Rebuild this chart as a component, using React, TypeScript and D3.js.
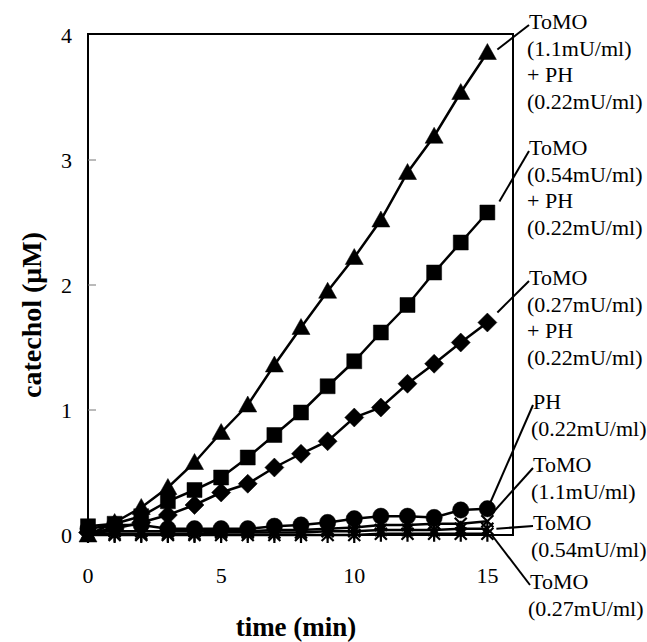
import React, { useEffect, useRef } from "react";
import * as d3 from "d3";

// time points (min)
const times = [0, 1, 2, 3, 4, 5, 6, 7, 8, 9, 10, 11, 12, 13, 14, 15];

// catechol (uM)
const tomo11ph = [0.0, 0.1, 0.22, 0.38, 0.58, 0.82, 1.04, 1.36, 1.66, 1.95, 2.22, 2.52, 2.9, 3.19, 3.54, 3.86];
const tomo054ph = [0.07, 0.09, 0.15, 0.27, 0.36, 0.46, 0.62, 0.8, 0.98, 1.19, 1.39, 1.62, 1.84, 2.1, 2.34, 2.58];
const tomo027ph = [0.02, 0.05, 0.1, 0.16, 0.24, 0.34, 0.41, 0.54, 0.65, 0.75, 0.94, 1.02, 1.21, 1.37, 1.54, 1.7];
const phOnly = [0.05, 0.08, 0.08, 0.05, 0.05, 0.05, 0.05, 0.07, 0.08, 0.1, 0.13, 0.15, 0.15, 0.14, 0.2, 0.21];
const tomo11 = [0.02, 0.03, 0.03, 0.03, 0.03, 0.03, 0.03, 0.04, 0.04, 0.05, 0.06, 0.08, 0.08, 0.09, 0.09, 0.11];
const tomo054 = [0.01, 0.01, 0.01, 0.01, 0.01, 0.02, 0.02, 0.02, 0.02, 0.03, 0.03, 0.04, 0.04, 0.04, 0.05, 0.05];
const tomo027 = [0, 0, 0, 0, 0, 0, 0, 0, 0, 0, 0, 0.01, 0.01, 0.01, 0.01, 0.01];

const xTicks = [0, 5, 10, 15];
const yTicks = [0, 1, 2, 3, 4];

const labelTomo11ph = ["ToMO", "(1.1mU/ml)", "+ PH", "(0.22mU/ml)"];
const labelTomo054ph = ["ToMO", "(0.54mU/ml)", "+ PH", "(0.22mU/ml)"];
const labelTomo027ph = ["ToMO", "(0.27mU/ml)", "+ PH", "(0.22mU/ml)"];
const labelPh = ["PH", "(0.22mU/ml)"];
const labelTomo11 = ["ToMO", "(1.1mU/ml)"];
const labelTomo054 = ["ToMO", "(0.54mU/ml)"];
const labelTomo027 = ["ToMO", "(0.27mU/ml)"];

const FONT = "'Liberation Serif', 'Times New Roman', Times, serif";

function App() {
  const ref = useRef<SVGSVGElement | null>(null);

  useEffect(() => {
    const node = ref.current;
    if (!node) return;
    const svg = d3.select(node);
    svg.selectAll("*").remove();

    const left = 88, right = 514, top = 35, bottom = 535;
    const x = d3.scaleLinear().domain([0, 16]).range([left, right]);
    const y = d3.scaleLinear().domain([0, 4]).range([bottom, top]);

    // series table: drawing order puts the small ones underneath
    const series = [
      { values: tomo027, marker: "star", label: labelTomo027, tx: 530, ty: 589, dx: 5, dy: 2 },
      { values: tomo054, marker: "star", label: labelTomo054, tx: 533, ty: 530, dx: 9, dy: 0 },
      { values: tomo11, marker: "x", label: labelTomo11, tx: 533, ty: 472, dx: 5, dy: -8 },
      { values: phOnly, marker: "circle", label: labelPh, tx: 533, ty: 409, dx: 2, dy: -4 },
      { values: tomo027ph, marker: "diamond", label: labelTomo027ph, tx: 529, ty: 285, dx: 10, dy: -10 },
      { values: tomo054ph, marker: "square", label: labelTomo054ph, tx: 529, ty: 155, dx: 12, dy: -11 },
      { values: tomo11ph, marker: "triangle", label: labelTomo11ph, tx: 529, ty: 29, dx: 10, dy: -3 },
    ];

    // frame
    svg.append("rect")
      .attr("x", left).attr("y", top - 1)
      .attr("width", 513 - left).attr("height", bottom - top + 1)
      .attr("fill", "none").attr("stroke", "#000").attr("stroke-width", 2);

    // y ticks (inward)
    svg.append("g").selectAll("line")
      .data(yTicks.filter(d => d > 0 && d < 4))
      .enter().append("line")
      .attr("x1", left).attr("x2", left + 8)
      .attr("y1", d => y(d)).attr("y2", d => y(d))
      .attr("stroke", "#777").attr("stroke-width", 1);

    svg.append("g").selectAll("text")
      .data(yTicks)
      .enter().append("text")
      .attr("x", 72).attr("y", d => y(d) + 8)
      .attr("text-anchor", "end")
      .attr("font-family", FONT).attr("font-size", 22)
      .text(d => d);

    svg.append("g").selectAll("text")
      .data(xTicks)
      .enter().append("text")
      .attr("x", d => x(d)).attr("y", 583)
      .attr("text-anchor", "middle")
      .attr("font-family", FONT).attr("font-size", 22)
      .text(d => d);

    // axis titles
    svg.append("text")
      .attr("x", 296).attr("y", 636)
      .attr("text-anchor", "middle")
      .attr("font-family", FONT).attr("font-size", 27).attr("font-weight", "bold")
      .text("time (min)");

    svg.append("text")
      .attr("transform", "translate(41,315) rotate(-90)")
      .attr("text-anchor", "middle")
      .attr("font-family", FONT).attr("font-size", 28).attr("font-weight", "bold")
      .text("catechol (\u03bcM)");

    const line = d3.line<number>()
      .x((d, i) => x(times[i]))
      .y(d => y(d));

    const markerPath = (type: string) => {
      switch (type) {
        case "triangle": return "M0,-9L9,7L-9,7Z";
        case "square": return "M-7.5,-7.5H7.5V7.5H-7.5Z";
        case "diamond": return "M0,-9.5L9.5,0L0,9.5L-9.5,0Z";
        case "circle": return d3.symbol().type(d3.symbolCircle).size(210)() as string;
        case "x": return "M-6,-6L6,6M6,-6L-6,6";
        default: return "M-6,-6L6,6M6,-6L-6,6M0,-8V8";
      }
    };

    series.forEach(s => {
      const g = svg.append("g");
      g.append("path")
        .datum(s.values)
        .attr("d", line)
        .attr("fill", "none").attr("stroke", "#000").attr("stroke-width", 2.5);

      const open = s.marker === "x" || s.marker === "star";
      g.selectAll("path.m")
        .data(s.values)
        .enter().append("path")
        .attr("class", "m")
        .attr("transform", (d, i) => "translate(" + x(times[i]) + "," + y(d) + ")")
        .attr("d", markerPath(s.marker))
        .attr("fill", open ? "none" : "#000")
        .attr("stroke", "#000")
        .attr("stroke-width", open ? 2.2 : 0.5);
    });

    // labels with leader lines
    series.forEach(s => {
      const last = s.values.length - 1;
      const lx = x(times[last]) + s.dx;
      const ly = y(s.values[last]) + s.dy;
      svg.append("line")
        .attr("x1", lx).attr("y1", ly)
        .attr("x2", s.tx).attr("y2", s.ty - 4)
        .attr("stroke", "#000").attr("stroke-width", 2);

      const t = svg.append("text")
        .attr("font-family", FONT).attr("font-size", 22);
      s.label.forEach((ln, i) => {
        t.append("tspan")
          .attr("x", ln.startsWith("(") || ln.startsWith("+") ? s.tx - 2 : s.tx)
          .attr("y", s.ty + i * 26.5)
          .text(ln);
      });
    });
  }, []);

  return (
    <svg ref={ref} width={647} height={642}
      style={{ position: "absolute", left: 0, top: 0, background: "#fff" }} />
  );
}

export default App;
